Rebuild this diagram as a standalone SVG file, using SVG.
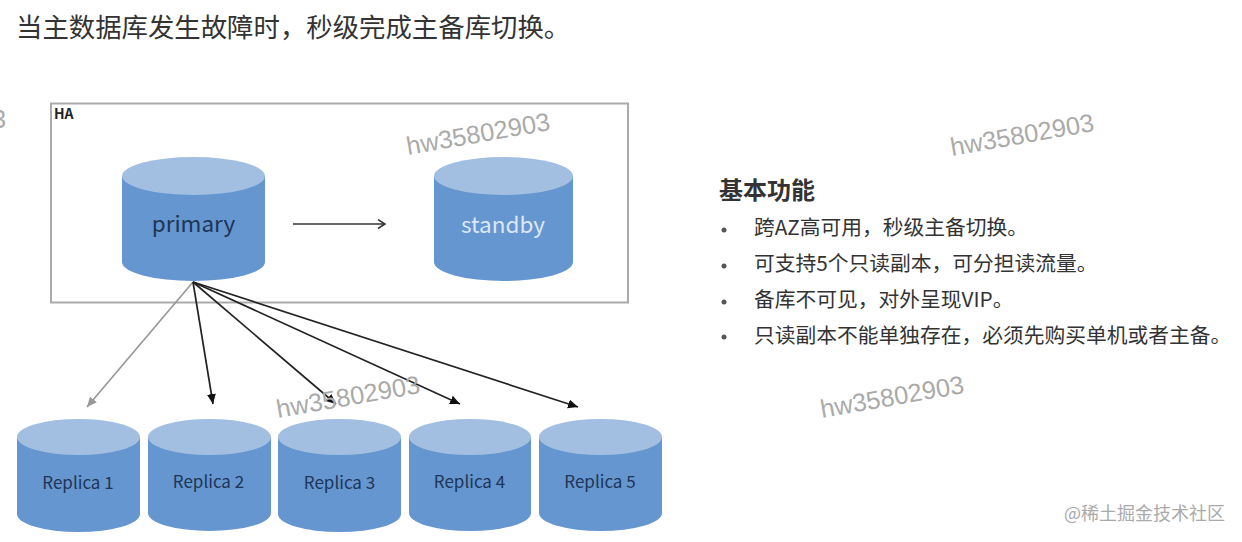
<svg xmlns="http://www.w3.org/2000/svg" width="1242" height="542" viewBox="0 0 1242 542">
<defs>
<marker id="ab" markerUnits="userSpaceOnUse" markerWidth="12" markerHeight="10" refX="10" refY="4.5" orient="auto"><path d="M0 0L10 4.500L0 9Z" fill="#111"/></marker>
<marker id="ag" markerUnits="userSpaceOnUse" markerWidth="12" markerHeight="10" refX="10" refY="4.500" orient="auto"><path d="M0 0L10 4.500L0 9Z" fill="#999"/></marker>
<marker id="open" markerUnits="userSpaceOnUse" markerWidth="12" markerHeight="12" refX="8" refY="5" orient="auto"><path d="M1 0.500L8 5L1 9.500" fill="none" stroke="#333" stroke-width="1.500"/></marker>
</defs>
<style>
text{font-family:"Noto Sans CJK SC","Liberation Sans",sans-serif}
.body{fill:#6596cf}.top{fill:#a2bfe2}
.dk{fill:#1d3557;font-size:17px;text-anchor:middle}
.li{fill:#333;font-size:20.750px}
.dot{fill:#555}
.wm{fill:#aaa;font-size:25.400px;font-family:"Liberation Sans",sans-serif}
.c{fill:none;stroke:#222;stroke-width:1.700}
</style>
<rect width="1242" height="542" fill="#fff"/>
<text x="16" y="37" font-size="26.400" fill="#333">当主数据库发生故障时，秒级完成主备库切换。</text>
<g id="ha"><rect x="51" y="103.500" width="577" height="199" fill="#fff" stroke="#aaa" stroke-width="2"/><text x="54" y="119" font-size="14" font-weight="700" fill="#222">HA</text></g>
<g id="primary"><path class="body" d="M122 176V262A71.500 19 0 0 0 265 262V176Z"/><ellipse class="top" cx="193.500" cy="176" rx="71.500" ry="19"/><text class="dk" x="193.500" y="232" style="font-size:22.500px">primary</text></g>
<g id="standby"><path class="body" d="M434 176V262A69.500 19 0 0 0 573 262V176Z"/><ellipse class="top" cx="503.500" cy="176" rx="69.500" ry="19"/><text x="503" y="233" font-size="22.500" fill="#dce8f5" text-anchor="middle">standby</text></g>
<g id="replica1"><path class="body" d="M17 438V514A61.500 18 0 0 0 140 514V438Z"/><ellipse class="top" cx="78.500" cy="437" rx="61.500" ry="18"/><text class="dk" x="78" y="489">Replica 1</text></g>
<g id="replica2"><path class="body" d="M148 437V513A61.500 18 0 0 0 271 513V437Z"/><ellipse class="top" cx="209.500" cy="437" rx="61.500" ry="18"/><text class="dk" x="208.500" y="488">Replica 2</text></g>
<g id="replica3"><path class="body" d="M278 438V514A61.500 18 0 0 0 401 514V438Z"/><ellipse class="top" cx="339.500" cy="437" rx="61.500" ry="18"/><text class="dk" x="339.500" y="489">Replica 3</text></g>
<g id="replica4"><path class="body" d="M409 437V513A61 18 0 0 0 531 513V437Z"/><ellipse class="top" cx="470" cy="437" rx="61" ry="18"/><text class="dk" x="469.500" y="488">Replica 4</text></g>
<g id="replica5"><path class="body" d="M539 437V513A61.500 18 0 0 0 662 513V437Z"/><ellipse class="top" cx="600.500" cy="437" rx="61.500" ry="18"/><text class="dk" x="600" y="488">Replica 5</text></g>
<g id="connectors">
<line class="c" x1="293" y1="224" x2="385" y2="224" marker-end="url(#open)" style="stroke:#333"/>
<line class="c" x1="193" y1="282" x2="87" y2="407" marker-end="url(#ag)" style="stroke:#999"/>
<line class="c" x1="193" y1="282" x2="213" y2="404" marker-end="url(#ab)"/>
<line class="c" x1="193" y1="282" x2="336" y2="404" marker-end="url(#ab)"/>
<line class="c" x1="193" y1="282" x2="460" y2="404" marker-end="url(#ab)"/>
<line class="c" x1="193" y1="282" x2="578" y2="407" marker-end="url(#ab)"/>
</g>
<g id="features">
<text x="719" y="199" font-size="24" font-weight="700" fill="#333">基本功能</text>
<circle class="dot" cx="724" cy="230" r="2.500"/><text class="li" x="754" y="235">跨AZ高可用，秒级主备切换。</text>
<circle class="dot" cx="724" cy="266" r="2.500"/><text class="li" x="754" y="271">可支持5个只读副本，可分担读流量。</text>
<circle class="dot" cx="724" cy="302" r="2.500"/><text class="li" x="754" y="307">备库不可见，对外呈现VIP。</text>
<circle class="dot" cx="724" cy="337" r="2.500"/><text class="li" x="754" y="343">只读副本不能单独存在，必须先购买单机或者主备。</text>
</g>
<g id="watermarks">
<text class="wm" transform="translate(408 155) rotate(-10)">hw35802903</text>
<text class="wm" transform="translate(952 156) rotate(-10)">hw35802903</text>
<text class="wm" transform="translate(278 418) rotate(-10)">hw35802903</text>
<text class="wm" transform="translate(822 418) rotate(-10)">hw35802903</text>
<text class="wm" x="-8" y="128">3</text>
<text x="1064" y="520" font-size="18" fill="#aaa">@稀土掘金技术社区</text>
</g>
</svg>
